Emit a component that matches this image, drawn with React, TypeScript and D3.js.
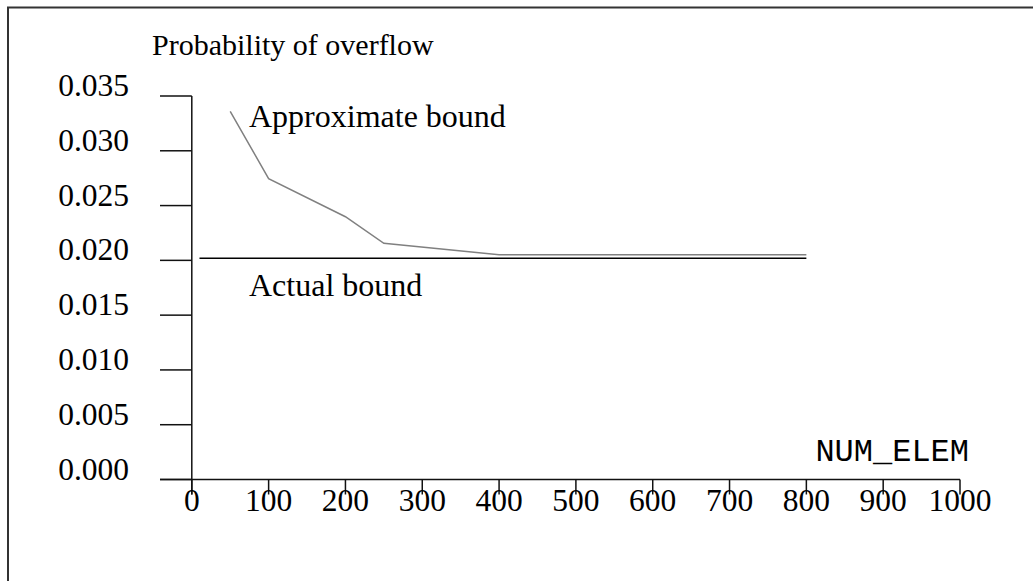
import React from "react";
import * as d3 from "d3";

const xTicks = [0, 100, 200, 300, 400, 500, 600, 700, 800, 900, 1000];
const yTicks = [0, 0.005, 0.01, 0.015, 0.02, 0.025, 0.03, 0.035];

const approxX = [50, 100, 200, 250, 400, 800];
const approxY = [0.0336, 0.02745, 0.02398, 0.02156, 0.02052, 0.02052];

const actualX = [10, 800];
const actualY = [0.0202, 0.0202];

const W = 1033;
const H = 581;

export default function App() {
  const x = d3.scaleLinear().domain([0, 1000]).range([191.8, 960]);
  const y = d3.scaleLinear().domain([0, 0.035]).range([479.5, 96]);
  const line = d3
    .line<[number, number]>()
    .x((d) => x(d[0]))
    .y((d) => y(d[1]));
  const approx = approxX.map((v, i) => [v, approxY[i]] as [number, number]);
  const actual = actualX.map((v, i) => [v, actualY[i]] as [number, number]);
  const serif = "'Liberation Serif', 'Times New Roman', serif";
  const mono = "'Liberation Mono', 'Courier New', monospace";
  const axisColor = "#111";
  return (
    <svg
      width={W}
      height={H}
      style={{ position: "absolute", left: 0, top: 0, background: "#fff" }}
    >
      <rect x={0} y={0} width={W} height={H} fill="#fff" />
      <path d={`M8,${H + 5} L8,7.5 L${W + 5},7.5`} fill="none" stroke="#333" strokeWidth={2} />
      <text x={152} y={54.5} fontFamily={serif} fontSize={30} fill="#000">
        Probability of overflow
      </text>
      {/* y axis */}
      <line x1={x(0)} x2={x(0)} y1={y(0.035)} y2={y(0) + 15} stroke={axisColor} strokeWidth={1.5} />
      {yTicks.map((t) => (
        <g key={t}>
          <line x1={160} x2={x(0)} y1={y(t)} y2={y(t)} stroke={axisColor} strokeWidth={1.5} />
          <text
            x={129}
            y={y(t)}
            textAnchor="end"
            fontFamily={serif}
            fontSize={31.5}
            fill="#000"
          >
            {d3.format(".3f")(t)}
          </text>
        </g>
      ))}
      {/* x axis */}
      <line x1={160} x2={x(1000)} y1={y(0)} y2={y(0)} stroke={axisColor} strokeWidth={1.5} />
      {xTicks.map((t) => (
        <g key={t}>
          <line x1={x(t)} x2={x(t)} y1={y(0)} y2={y(0) + 15} stroke={axisColor} strokeWidth={1.5} />
          <text
            x={x(t)}
            y={510.5}
            textAnchor="middle"
            fontFamily={serif}
            fontSize={31.5}
            fill="#000"
          >
            {t}
          </text>
        </g>
      ))}
      <text x={969} y={461} textAnchor="end" fontFamily={mono} fontSize={32} fill="#000">
        NUM_ELEM
      </text>
      <path d={line(approx) || ""} fill="none" stroke="#808080" strokeWidth={1.5} />
      <path d={line(actual) || ""} fill="none" stroke="#000" strokeWidth={1.5} />
      <text x={249} y={127} fontFamily={serif} fontSize={32} fill="#000">
        Approximate bound
      </text>
      <text x={249} y={296} fontFamily={serif} fontSize={32} fill="#000">
        Actual bound
      </text>
    </svg>
  );
}
